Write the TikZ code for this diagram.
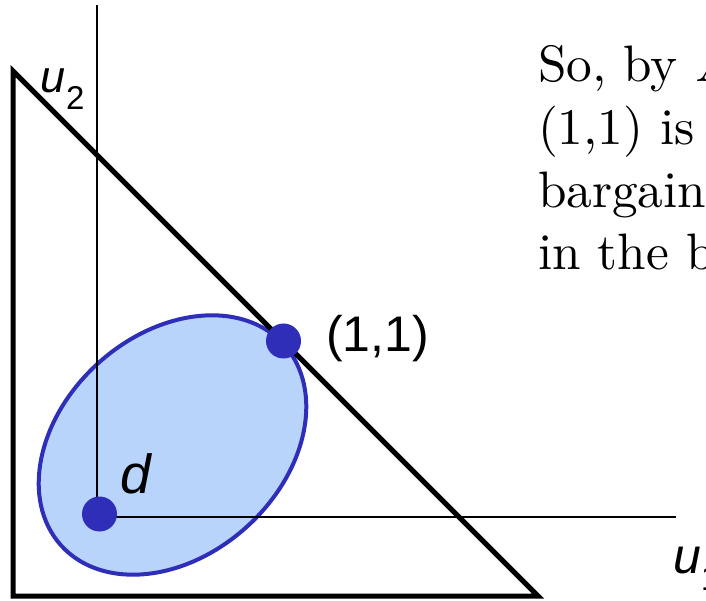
\documentclass[tikz,border=0pt]{standalone}
\usepackage{fontspec}
\newfontfamily\arialfont{Liberation Sans}
\usepackage{tikz}
\usetikzlibrary{positioning}

\definecolor{setblue}{RGB}{46,46,184}
\definecolor{setfill}{RGB}{184,212,250}

\begin{document}
\begin{tikzpicture}[
  x=0.2pt, y=0.2pt,
  region/.style={draw=setblue, line width=0.8pt, fill=setfill},
  bound/.style={draw, line width=1pt},
  axis/.style={draw, line width=0.5pt},
  dot/.style={circle, fill=setblue, inner sep=0pt, minimum size=7pt},
  lbl/.style={font=\arialfont\fontsize{10}{12}\selectfont, inner sep=0pt, anchor=base west},
  note/.style={font=\fontsize{10.25}{12.54}\selectfont, inner sep=0pt, anchor=base west, align=left}
]
\useasboundingbox (0,0) rectangle (706,600);

% feasible set and disagreement point
\draw[region, rotate around={42:(172.5,155)}] (172.5,155) ellipse (150 and 110.5);
\draw[bound] (13,529) -- (13,4) -- (538,4) -- cycle;

\coordinate (o) at (97,83);
\coordinate (ytop) at (97,595);
\coordinate (xend) at (676,83);
\draw[axis] (o) -- (ytop);
\draw[axis] (o) -- (xend);

\node[dot] (d) at (99.5,86) {};
\node[dot] (opt) at (283.5,259) {};

\node[lbl, font=\arialfont\fontsize{9}{11}\selectfont] (u2) at (40,507) {\textit{u}\raisebox{-3.4pt}{\fontsize{6.6}{7}\selectfont 2}};
\node[lbl] (u1) at (672,27) {\textit{u}\raisebox{-3.6pt}{\fontsize{7}{8}\selectfont 1}};
\node[lbl] (optlbl) at (325,248) {(1,1)};
\node[lbl, font=\arialfont\fontsize{11}{13}\selectfont] (dlbl) at (119,107) {\textit{d}};

% last baseline of the cut-off remark
\node[note] (text) at (537,330) {So, by \textit{A}\\(1,1) is\\bargain\\in the b};
\end{tikzpicture}
\end{document}
